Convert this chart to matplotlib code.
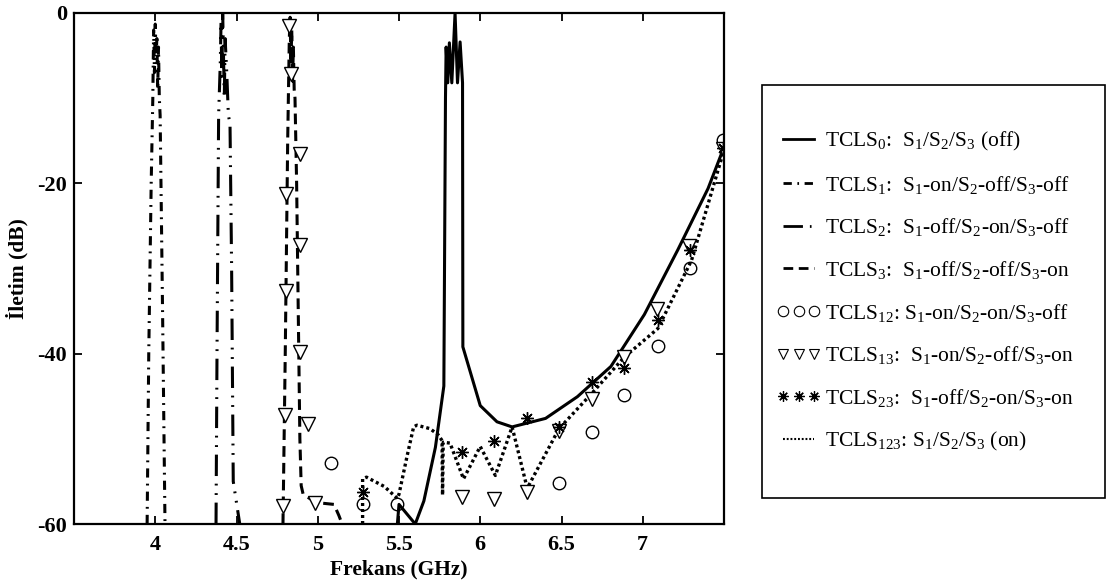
import numpy as np
import matplotlib
matplotlib.use("Agg")
from matplotlib import pyplot as plt
from matplotlib.lines import Line2D
from matplotlib.patches import Rectangle

plt.rcParams['font.family'] = ['Liberation Serif', 'DejaVu Serif']
plt.rcParams['mathtext.fontset'] = 'custom'
plt.rcParams['mathtext.rm'] = 'Liberation Serif'
plt.rcParams['mathtext.it'] = 'Liberation Serif:italic'
plt.rcParams['axes.unicode_minus'] = False

# TCLS0: S1/S2/S3 (off)  - solid
x0 = [5.49, 5.50, 5.60, 5.653, 5.724, 5.776, 5.786, 5.79, 5.80, 5.81, 5.825, 5.845,
      5.86, 5.876, 5.891, 5.893, 6.0, 6.103, 6.196, 6.402, 6.598, 6.804, 7.01,
      7.216, 7.402, 7.495]
y0 = [-60, -57.7, -60, -57.3, -51, -43.8, -10, -4, -8.2, -3.5, -8.2, 0,
      -8.2, -3.4, -8.2, -39.2, -46.1, -48.0, -48.6, -47.6, -45.05, -41.5, -35.4,
      -27.8, -20.6, -16.0]

# TCLS1: S1-on/S2-off/S3-off  - dash-dot
x1 = [3.95, 3.96, 3.975, 3.985, 3.99, 3.995, 4.0, 4.005, 4.01, 4.015, 4.02, 4.025,
      4.03, 4.045, 4.06]
y1 = [-60, -40, -20, -10, -2, -7, -1.3, -5, -3, -9, -4, -10, -12, -35, -60]

# TCLS2: S1-off/S2-on/S3-off  - long dash, dot, dot
x2 = [4.374, 4.38, 4.39, 4.40, 4.405, 4.41, 4.415, 4.42, 4.425, 4.43, 4.44, 4.45,
      4.46, 4.47, 4.48, 4.50, 4.52]
y2 = [-60, -40, -12, -6, -1, -8, 0, -5, -10, -3, -7, -12, -13, -30, -55, -57.5, -60]

# TCLS3: S1-off/S2-off/S3-on  - dashed
x3 = [4.786, 4.80, 4.815, 4.825, 4.83, 4.835, 4.84, 4.845, 4.85, 4.855, 4.86, 4.87,
      4.88, 4.89, 4.898, 4.91, 4.95, 5.0, 5.1, 5.13, 5.15]
y3 = [-60, -40, -15, -3, -0.5, -6, -2, -8, -4, -9, -10, -20,
      -35, -50, -55.5, -56.5, -57, -57.5, -57.7, -59, -60]

# TCLS12: S1-on/S2-on/S3-off  - circles
x12 = [5.082, 5.276, 5.49, 6.485, 6.69, 6.882, 7.093, 7.293, 7.495]
y12 = [-52.8, -57.7, -57.7, -55.2, -49.2, -44.8, -39.1, -29.9, -14.9]

# TCLS13: S1-on/S2-off/S3-on  - triangles
x13 = [4.786, 4.796, 4.806, 4.806, 4.826, 4.837, 4.888, 4.888, 4.888, 4.939, 4.98,
       5.887, 6.082, 6.285, 6.485, 6.69, 6.887, 7.087, 7.282, 7.495]
y13 = [-57.9, -47.2, -32.6, -21.3, -1.5, -7.2, -16.6, -27.2, -39.8, -48.2, -57.5,
       -56.8, -57.05, -56.2, -49.05, -45.3, -40.4, -34.7, -27.4, -16.0]

# TCLS23: S1-off/S2-on/S3-on  - stars
x23 = [5.276, 5.887, 6.082, 6.285, 6.485, 6.69, 6.887, 7.093, 7.289, 7.495]
y23 = [-56.2, -51.5, -50.3, -47.6, -48.6, -43.3, -41.7, -36.0, -27.8, -15.8]

# TCLS123: S1/S2/S3 (on)  - dotted
x123 = [5.276, 5.276, 5.30, 5.35, 5.41, 5.49, 5.50, 5.55, 5.59, 5.61, 5.69, 5.74,
        5.765, 5.768, 5.772, 5.814, 5.897, 6.0, 6.093, 6.196, 6.289, 6.485, 6.68,
        6.887, 7.093, 7.3, 7.495]
y123 = [-60, -54.7, -54.5, -55, -55.6, -57, -56.5, -52, -48.6, -48.4, -48.8, -49.5,
        -50.2, -56.6, -50.4, -50.5, -54.7, -50.9, -54.3, -48.6, -55.8, -48.8, -44.8,
        -40.4, -37.05, -29.05, -16.4]

labels = [r'TCLS$_0$:  S$_1$/S$_2$/S$_3$ (off)',
          r'TCLS$_1$:  S$_1$-on/S$_2$-off/S$_3$-off',
          r'TCLS$_2$:  S$_1$-off/S$_2$-on/S$_3$-off',
          r'TCLS$_3$:  S$_1$-off/S$_2$-off/S$_3$-on',
          r'TCLS$_{12}$: S$_1$-on/S$_2$-on/S$_3$-off',
          r'TCLS$_{13}$:  S$_1$-on/S$_2$-off/S$_3$-on',
          r'TCLS$_{23}$:  S$_1$-off/S$_2$-on/S$_3$-on',
          r'TCLS$_{123}$: S$_1$/S$_2$/S$_3$ (on)']

xticks = [4, 4.5, 5, 5.5, 6, 6.5, 7]
yticks = [0, -20, -40, -60]

dashdot = (0, (3, 2, 0.6, 2))
dashdotdot = (0, (7, 2.5, 0.6, 2.5, 0.6, 2.5))
dashed = (0, (3.5, 2))
dotted = (0, (0.9, 0.9))

fig = plt.figure(figsize=(11.07, 5.87), dpi=100)
ax = fig.add_axes([74 / 1107, 1 - 524 / 587, 650 / 1107, 511 / 587])

ax.plot(x0, y0, color='k', lw=2.2, ls='-')
ax.plot(x1, y1, color='k', lw=2.2, ls=dashdot)
ax.plot(x2, y2, color='k', lw=2.2, ls=dashdotdot)
ax.plot(x3, y3, color='k', lw=2.2, ls=dashed)
ax.plot(x123, y123, color='k', lw=2.4, ls=dotted)
ax.plot(x12, y12, ls='none', marker='o', ms=9, mfc='none', mec='k', mew=1.0)
ax.plot(x13, y13, ls='none', marker='v', ms=10, mfc='white', mec='k', mew=1.0)
ax.plot(x23, y23, ls='none', marker=(8, 2, 0), ms=9, mec='k', mew=1.0)

ax.set_xlim(3.5, 7.5)
ax.set_ylim(-60, 0)
ax.set_xticks(xticks)
ax.set_xticklabels([('%g' % t) for t in xticks])
ax.set_yticks(yticks)
ax.set_yticklabels([('%d' % t) for t in yticks])
ax.tick_params(direction='in', top=True, right=True, length=6, width=1.3,
               labelsize=16)
ax.tick_params(axis='x', pad=8)
ax.tick_params(axis='y', pad=5)
for lab in ax.get_xticklabels() + ax.get_yticklabels():
    lab.set_fontweight('bold')
for sp in ax.spines.values():
    sp.set_linewidth(1.6)

ax.set_xlabel('Frekans (GHz)', fontsize=15.5, fontweight='bold', labelpad=3)
ax.set_ylabel('İletim (dB)', fontsize=15.5, fontweight='bold', labelpad=6)

# legend in its own frame to the right
handles = [Line2D([], [], color='k', lw=2, ls='-'),
           Line2D([], [], color='k', lw=2, ls=dashdot),
           Line2D([], [], color='k', lw=2, ls=dashdotdot),
           Line2D([], [], color='k', lw=2, ls=dashed),
           Line2D([], [], ls='none', marker='o', ms=7.5, mfc='none', mec='k', mew=0.8),
           Line2D([], [], ls='none', marker='v', ms=7.5, mfc='none', mec='k', mew=0.8),
           Line2D([], [], ls='none', marker=(8, 2, 0), ms=7.5, mec='k', mew=0.9),
           Line2D([], [], color='k', lw=1.5, ls=dotted)]

fig.patches.append(Rectangle((762 / 1107, 1 - 498 / 587), 343 / 1107, 413 / 587,
                             transform=fig.transFigure, fill=False, ec='k', lw=1.2))
fig.legend(handles, labels, loc='upper left', bbox_to_anchor=(777 / 1107, 1 - 130 / 587),
           frameon=False, fontsize=15.5, borderpad=0, borderaxespad=0,
           labelspacing=0.96, handlelength=2.0, handletextpad=0.25, numpoints=3)

fig.savefig('out.png', dpi=100)
